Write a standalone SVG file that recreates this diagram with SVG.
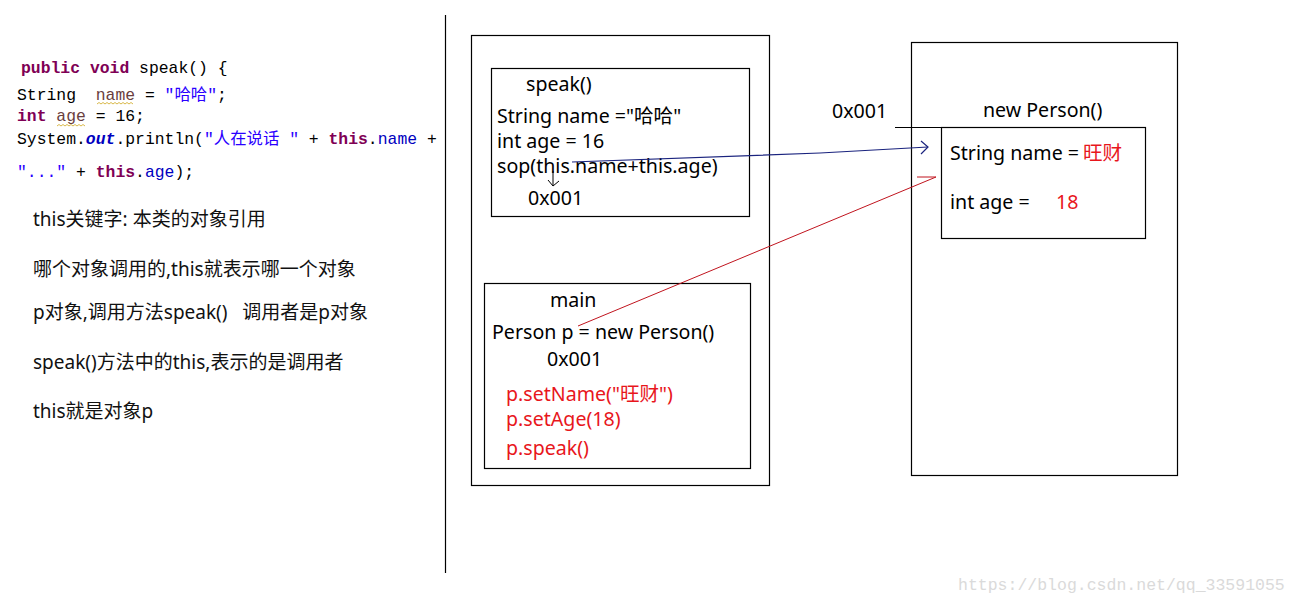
<svg xmlns="http://www.w3.org/2000/svg" width="1299" height="603" viewBox="0 0 1299 603">
<style>
.code{font-family:"Liberation Mono","Noto Sans CJK SC",monospace;font-size:16.4px;fill:#000;white-space:pre}
.kw{fill:#7f0055;font-weight:bold}
.str{fill:#2a00ff}
.fld{fill:#0000c0}
.loc{fill:#6a3e3e}
.t{font-family:"Noto Sans","Noto Sans CJK SC",sans-serif;font-size:19.6px;fill:#000;white-space:pre}
.red{fill:#e8161c}
.note{font-family:"Noto Sans","Noto Sans CJK SC",sans-serif;font-size:19px;fill:#111;white-space:pre}
.box{fill:none;stroke:#000;stroke-width:1.2}
.wm{font-family:"Liberation Mono",monospace;font-size:16.5px;fill:#dadada}
.sq{fill:none;stroke:#d9b94a;stroke-width:1}
</style>
<rect width="1299" height="603" fill="#fff"/>

<g id="code">
<text class="code" x="21" y="73"><tspan class="kw">public</tspan> <tspan class="kw">void</tspan> speak() {</text>
<text class="code" x="17" y="100">String  <tspan class="loc">name</tspan> = <tspan class="str">"哈哈"</tspan>;</text>
<text class="code" x="17" y="121"><tspan class="kw">int</tspan> <tspan class="loc">age</tspan> = 16;</text>
<text class="code" x="17" y="144">System.<tspan class="fld" font-weight="bold" font-style="italic">out</tspan>.println(<tspan class="str">"人在说话 "</tspan> + <tspan class="kw">this</tspan>.<tspan class="fld">name</tspan> +</text>
<text class="code" x="17" y="177"><tspan class="str">"..."</tspan> + <tspan class="kw">this</tspan>.<tspan class="fld">age</tspan>);</text>
<path class="sq" d="M97 104 l2 -1.5 l2 1.5 l2 -1.5 l2 1.5 l2 -1.5 l2 1.5 l2 -1.5 l2 1.5 l2 -1.5 l2 1.5 l2 -1.5 l2 1.5 l2 -1.5 l2 1.5 l2 -1.5 l2 1.5 l2 -1.5 l2 1.5"/>
<path class="sq" d="M57 126 l2 -1.5 l2 1.5 l2 -1.5 l2 1.5 l2 -1.5 l2 1.5 l2 -1.5 l2 1.5 l2 -1.5 l2 1.5 l2 -1.5 l2 1.5 l2 -1.5 l2 1.5"/>
</g>

<g id="notes">
<text class="note" x="33" y="226">this关键字: 本类的对象引用</text>
<text class="note" x="33" y="276">哪个对象调用的,this就表示哪一个对象</text>
<text class="note" x="33" y="319">p对象,调用方法speak()   调用者是p对象</text>
<text class="note" x="33" y="369">speak()方法中的this,表示的是调用者</text>
<text class="note" x="33" y="418">this就是对象p</text>
</g>

<line id="divider" x1="445.5" y1="15" x2="445.5" y2="573" stroke="#000" stroke-width="1.2"/>

<g id="stack">
<rect class="box" x="471.5" y="35.5" width="298" height="450"/>
</g>

<g id="speak">
<rect class="box" x="491.5" y="68.5" width="258" height="148"/>
<text class="t" x="526" y="91">speak()</text>
<text class="t" x="497" y="123">String name ="哈哈"</text>
<text class="t" x="497" y="148">int age = 16</text>
<text class="t" x="497" y="173">sop(this.name+this.age)</text>
<text class="t" x="528" y="205">0x001</text>
</g>

<g id="main">
<rect class="box" x="484.5" y="283.5" width="266" height="185"/>
<text class="t" x="550" y="307">main</text>
<text class="t" x="492" y="339">Person p = new Person()</text>
<text class="t" x="547" y="366">0x001</text>
<text class="t red" x="506" y="401">p.setName("旺财")</text>
<text class="t red" x="506" y="426">p.setAge(18)</text>
<text class="t red" x="506" y="455">p.speak()</text>
</g>

<g id="heap">
<rect class="box" x="911.5" y="42.5" width="266" height="433"/>
<text class="t" x="983" y="117">new Person()</text>
<text class="t" x="832" y="118">0x001</text>
</g>

<g id="person">
<rect class="box" x="941.5" y="127.5" width="204" height="111"/>
<text class="t" x="950" y="160">String name =<tspan class="red" x="1083">旺财</tspan></text>
<text class="t" x="950" y="209">int age =<tspan class="red" x="1056">18</tspan></text>
</g>

<g id="connectors" fill="none">
<line x1="895" y1="127.5" x2="941" y2="127.5" stroke="#000" stroke-width="1.2"/>
<path d="M572 162 L820 153 L928 147" stroke="#1a237e" stroke-width="1.2"/>
<path d="M921 141 L928 147 L921 154" stroke="#1a237e" stroke-width="1.2"/>
<path d="M578 326 L936 177 L917 177" stroke="#c0141e" stroke-width="1"/>
<path d="M553 171 L553 186 M548 180 L553 186 L559 181" stroke="#000" stroke-width="1"/>
</g>

<text class="wm" x="958" y="590">https://blog.csdn.net/qq_33591055</text>
</svg>
